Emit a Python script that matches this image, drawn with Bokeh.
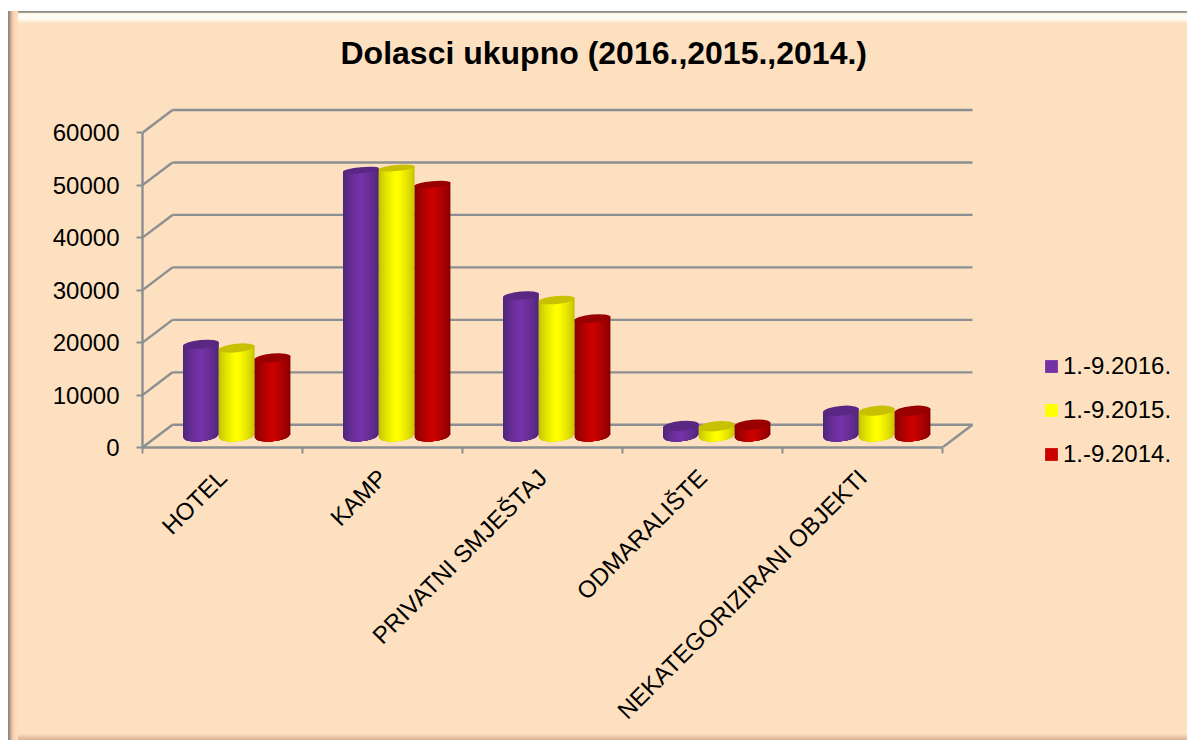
import numpy as np
from bokeh.embed import file_html
from bokeh.resources import INLINE
from bokeh.plotting import figure
from bokeh.models import FixedTicker, Legend, LegendItem, NumeralTickFormatter, Title

# ---- data ----
categories = ["HOTEL", "KAMP", "PRIVATNI SMJEŠTAJ", "ODMARALIŠTE", "NEKATEGORIZIRANI OBJEKTI"]
series_names = ["1.-9.2016.", "1.-9.2015.", "1.-9.2014."]
values_2016 = [17500, 50700, 26800, 1950, 4850]
values_2015 = [16800, 51100, 25950, 1900, 4850]
values_2014 = [14900, 48000, 22400, 2200, 4850]
y_ticks = [0, 10000, 20000, 30000, 40000, 50000, 60000]
title_text = "Dolasci ukupno (2016.,2015.,2014.)"

# ---- styles ----
W, H = 1187, 740
FRAME_L, FRAME_T, FRAME_B, FRAME_R = 142, 100, 293, 147
PX_PER_CAT = 160.0
PX_PER_VAL = 0.005247
DEPTH_X = 30 / PX_PER_CAT
DEPTH_Y = 22.7 / PX_PER_VAL
GRID = "#8b8f92"
GRID_W = 2.4
PEACH = "#fde0bf"
FONT = "Liberation Sans"

styles = [
    dict(edge=(0x4f, 0x27, 0x78), mid=(0x74, 0x32, 0xa6), cap="#5a2782"),
    dict(edge=(0xc4, 0xc4, 0x00), mid=(0xff, 0xff, 0x00), cap="#c8c000"),
    dict(edge=(0x86, 0x00, 0x00), mid=(0xca, 0x00, 0x00), cap="#990000"),
]
BAR_PX = 35.8
BOTTOM_B_PX = 5.0
TILT = np.deg2rad(5.3)
LEVELS = 10
SHIFT_PX = -0.8


def cap_b(v):
    # the caps look flatter the higher they stand (perspective of the 3D view)
    return 5.0 - 2.0 * v / 51000


def bands(direction, cols, start=0):
    stops = ["transparent 0 %dpx" % start] if start else []
    for i, c in enumerate(cols):
        stops.append("%s %dpx %dpx" % (c, start + i, start + i + 1))
    stops.append("transparent %dpx" % (start + len(cols)))
    return "linear-gradient(to %s, %s)" % (direction, ", ".join(stops))


top_cols = ["#8e8a86", "#a8a29c", "#fff0d8", "#fffaf0", "#fffcf4", "#fffcf4", "#fffcf4", "#fffaf0",
            "#fff7e8", "#fff3e0", "#ffeed6", "#fde6cc"]
left_cols = ["#8c8884", "#a09488", "#bfa48e", "#dcb99c", "#ecc6a6", "#f4d0b0", "#f8d6b6", "#fad9b9",
             "#fbdcbc", "#fcdebe"]
right_cols = ["#dcb79c", "#e2bca0", "#e8c3a6", "#eecaac", "#f4d2b3", "#f9dab9"]
bottom_cols = ["#d9b59a", "#e0bca0", "#e8c4a8", "#efccae", "#f5d4b4", "#f9dab9"]
bevel = ", ".join([
    "linear-gradient(to bottom, white 0 11px, transparent 11px)",
    "linear-gradient(to right, white 0 8px, transparent 8px)",
    bands("right", left_cols, 8),
    bands("bottom", top_cols, 11),
    bands("left", right_cols),
    bands("top", bottom_cols),
])

x_end = (W - FRAME_L - FRAME_R) / PX_PER_CAT
y_end = (H - FRAME_T - FRAME_B) / PX_PER_VAL

p = figure(width=W, height=H, frame_width=W - FRAME_L - FRAME_R, frame_height=H - FRAME_T - FRAME_B,
           output_backend="svg", toolbar_location=None,
           x_range=(0, x_end), y_range=(0, y_end), tools="",
           min_border_left=FRAME_L, min_border_top=FRAME_T,
           min_border_bottom=FRAME_B, min_border_right=FRAME_R,
           background_fill_alpha=0, border_fill_alpha=0,
           styles={"background-color": PEACH, "background-image": bevel})
p.outline_line_color = None
p.grid.visible = False

# ---- back wall, floor, side wall ----
n = len(categories)
p.segment(x0=[DEPTH_X] * len(y_ticks), x1=[n + DEPTH_X] * len(y_ticks),
          y0=[t + DEPTH_Y for t in y_ticks], y1=[t + DEPTH_Y for t in y_ticks],
          line_color=GRID, line_width=GRID_W)
p.segment(x0=[0] * len(y_ticks), x1=[DEPTH_X] * len(y_ticks),
          y0=y_ticks, y1=[t + DEPTH_Y for t in y_ticks],
          line_color=GRID, line_width=GRID_W)
p.segment(x0=[n], x1=[n + DEPTH_X], y0=[0], y1=[DEPTH_Y], line_color=GRID, line_width=GRID_W)

# ---- cylinders ----
all_values = [values_2016, values_2015, values_2014]
legend_items = []
bar_w = BAR_PX / PX_PER_CAT
tan_t = np.tan(TILT)
for j, (vals, st) in enumerate(zip(all_values, styles)):
    centers = [i + 0.5 + DEPTH_X / 2 + (j - 1) * bar_w + SHIFT_PX / PX_PER_CAT for i in range(n)]
    mid_hex = "#%02x%02x%02x" % st["mid"]
    # the plain bar of the series: it lies under the shading and gives the legend its swatch
    base = p.vbar(x=centers, top=[v + DEPTH_Y / 2 for v in vals], bottom=DEPTH_Y / 2,
                  width=bar_w * 0.5, fill_color=mid_hex, line_color=None)
    pxs, pys, cols = [], [], []
    for cx, v in zip(centers, vals):
        for k in range(LEVELS):
            frac = 1 - 0.88 * k / (LEVELS - 1)
            half_w = BAR_PX / 2 * frac
            shade = (k / (LEVELS - 1)) ** 0.7
            c = [int(e + (m - e) * shade) for e, m in zip(st["edge"], st["mid"])]
            dx = np.linspace(-half_w, half_w, 17)
            low = tan_t * dx - BOTTOM_B_PX * np.sqrt(np.clip(1 - (dx / (BAR_PX / 2)) ** 2, 0, 1))
            top_l = v + DEPTH_Y / 2 - tan_t * half_w / PX_PER_VAL
            top_r = v + DEPTH_Y / 2 + tan_t * half_w / PX_PER_VAL
            pxs.append(list(cx + dx / PX_PER_CAT) + [cx + half_w / PX_PER_CAT, cx - half_w / PX_PER_CAT])
            pys.append(list(DEPTH_Y / 2 + low / PX_PER_VAL) + [top_r, top_l])
            cols.append("#%02x%02x%02x" % tuple(c))
    p.patches(xs=pxs, ys=pys, fill_color=cols, line_color=None)
    p.ellipse(x=centers, y=[v + DEPTH_Y / 2 for v in vals],
              width=BAR_PX + 0.4, height=[2 * cap_b(v) for v in vals],
              width_units="screen", height_units="screen",
              angle=TILT, fill_color=st["cap"], line_color=None)
    legend_items.append(LegendItem(label=series_names[j], renderers=[base]))

# ---- axes ----
yax = p.yaxis[0]
yax.ticker = FixedTicker(ticks=y_ticks)
yax.formatter = NumeralTickFormatter(format="0")
yax.bounds = (0, 60000)
yax.major_tick_in = 0
yax.major_tick_out = 6
yax.minor_tick_line_color = None
yax.axis_line_color = GRID
yax.axis_line_width = GRID_W
yax.major_tick_line_color = GRID
yax.major_tick_line_width = 2
yax.major_label_standoff = 17
yax.major_label_text_font = FONT
yax.major_label_text_font_size = "24px"
yax.major_label_text_color = "black"

xax = p.xaxis[0]
xax.ticker = FixedTicker(ticks=[i + 0.5 for i in range(n)], minor_ticks=list(range(n + 1)))
xax.major_label_overrides = {i + 0.5: c for i, c in enumerate(categories)}
xax.bounds = (0, n)
xax.major_tick_line_color = None
xax.major_tick_in = 0
xax.major_tick_out = 0
xax.minor_tick_in = 0
xax.minor_tick_out = 6
xax.minor_tick_line_color = GRID
xax.minor_tick_line_width = 2
xax.axis_line_color = GRID
xax.axis_line_width = GRID_W
xax.major_label_orientation = np.pi / 4
xax.major_label_standoff = 20
xax.major_label_text_font = FONT
xax.major_label_text_font_size = "24px"
xax.major_label_text_color = "black"

# ---- title ----
p.title = Title(text=title_text, text_font=FONT, text_font_size="32px", text_font_style="bold",
                text_color="black", align="left", offset=198, standoff=60)

# ---- legend ----
legend = Legend(items=legend_items, location=(3, -21), orientation="vertical",
                background_fill_alpha=0, border_line_color=None, padding=0, margin=0,
                glyph_width=16, glyph_height=16, label_standoff=4, spacing=16,
                label_text_font=FONT, label_text_font_size="24px", label_text_color="black",
                label_height=26)
p.add_layout(legend, "right")

open("out.html", "w").write(file_html(p, INLINE))
